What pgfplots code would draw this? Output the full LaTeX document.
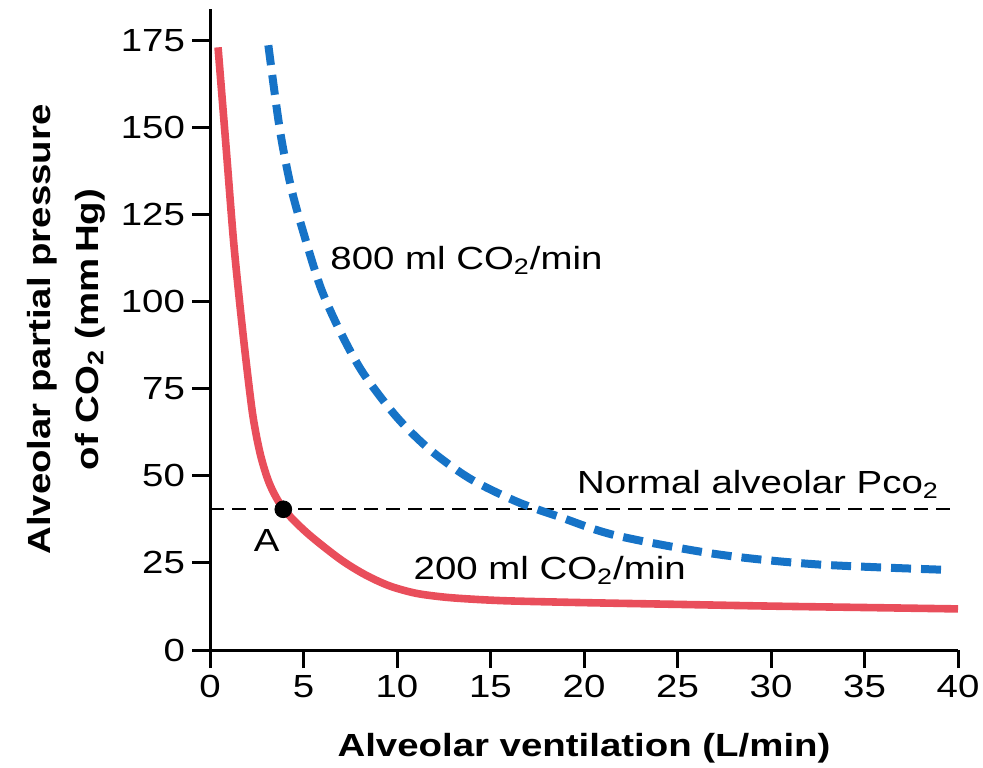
\documentclass[border=0pt]{standalone}
\usepackage{fontspec}
\setmainfont{Liberation Sans}[FakeStretch=1.2]
\usepackage{pgfplots}
\pgfplotsset{compat=1.18}

\definecolor{curvered}{RGB}{233,78,91}
\definecolor{curveblue}{RGB}{22,115,199}

\begin{document}
\begin{tikzpicture}
\useasboundingbox (-105pt,-58.5pt) rectangle (386.5pt,325pt);
\begin{axis}[
    at={(0pt,0pt)}, anchor=south west,
    scale only axis, width=374pt, height=320.5pt,
    xmin=0, xmax=40, ymin=0, ymax=184,
    axis x line*=bottom, axis y line*=left,
    axis line style={line width=1.5pt},
    xtick={0,5,...,40}, ytick={0,25,...,175},
    tick align=outside, major tick length=9pt,
    every tick/.style={black, line width=1.5pt},
    tick label style={font=\fontsize{16}{19}\selectfont},
    /pgf/number format/assume math mode=true,
    xlabel={Alveolar ventilation (L/min)},
    xlabel style={at={([yshift=-49pt]axis description cs:0.5,0)}, anchor=center,
        font=\bfseries\fontsize{16}{19}\selectfont},
    ylabel={Alveolar partial pressure\\of CO\textsubscript{2} (mm\,Hg)},
    ylabel style={at={([xshift=-72pt]axis description cs:0,0.5)}, anchor=center,
        align=center, font=\bfseries\fontsize{16}{24}\selectfont},
    clip=false,
]
% normal alveolar PCO2
\addplot[black, line width=1pt, dash pattern=on 7pt off 4pt] coordinates {(0,40.4) (40,40.4)};

% 200 ml CO2/min
\addplot[curvered, line width=3.8pt, smooth, tension=0.5] coordinates {
    (0.43,173) (0.85,145) (1.25,118) (1.6,99) (1.95,82) (2.3,67)
    (2.7,56) (3.2,47.5) (3.92,40.6) (5.17,33.7) (6.95,26.1) (8.3,21.6)
    (9.6,18.4) (11,16.3) (12.5,15.2) (14,14.6) (16,14.1)
    (20,13.6) (25,13.1) (30,12.6) (35,12.2) (40,11.8)
};

% 800 ml CO2/min
\addplot[curveblue, line width=4pt, dash pattern=on 10pt off 5pt, smooth, tension=0.5] coordinates {
    (3.12,173.6) (3.74,149.2) (4.37,132) (5.17,116.7) (5.97,103.3) (7.0,91)
    (8.2,79.4) (9.98,66.9) (11.76,57.5) (13.9,49.2) (16.4,42.6) (18.7,38.2)
    (21.7,32.9) (27.1,27.5) (32.4,24.6) (39.4,23.0)
};

% point A
\addplot[only marks, mark=*, mark size=4.2pt, black] coordinates {(3.92,40.4)};

\node[anchor=base west, inner sep=0pt, font=\fontsize{16}{19}\selectfont]
    at (axis cs:6.42,109.3) {800 ml CO\textsubscript{2}/min};
\node[anchor=base east, inner sep=0pt, font=\fontsize{16}{19}\selectfont]
    at (axis cs:39.0,45) {Normal alveolar Pco\textsubscript{2}};
\node[anchor=base west, inner sep=0pt, font=\fontsize{16}{19}\selectfont]
    at (axis cs:10.87,20.3) {200 ml CO\textsubscript{2}/min};
\node[anchor=base, inner sep=0pt, font=\fontsize{16}{19}\selectfont]
    at (axis cs:3.03,28.2) {A};
\end{axis}
\end{tikzpicture}
\end{document}
